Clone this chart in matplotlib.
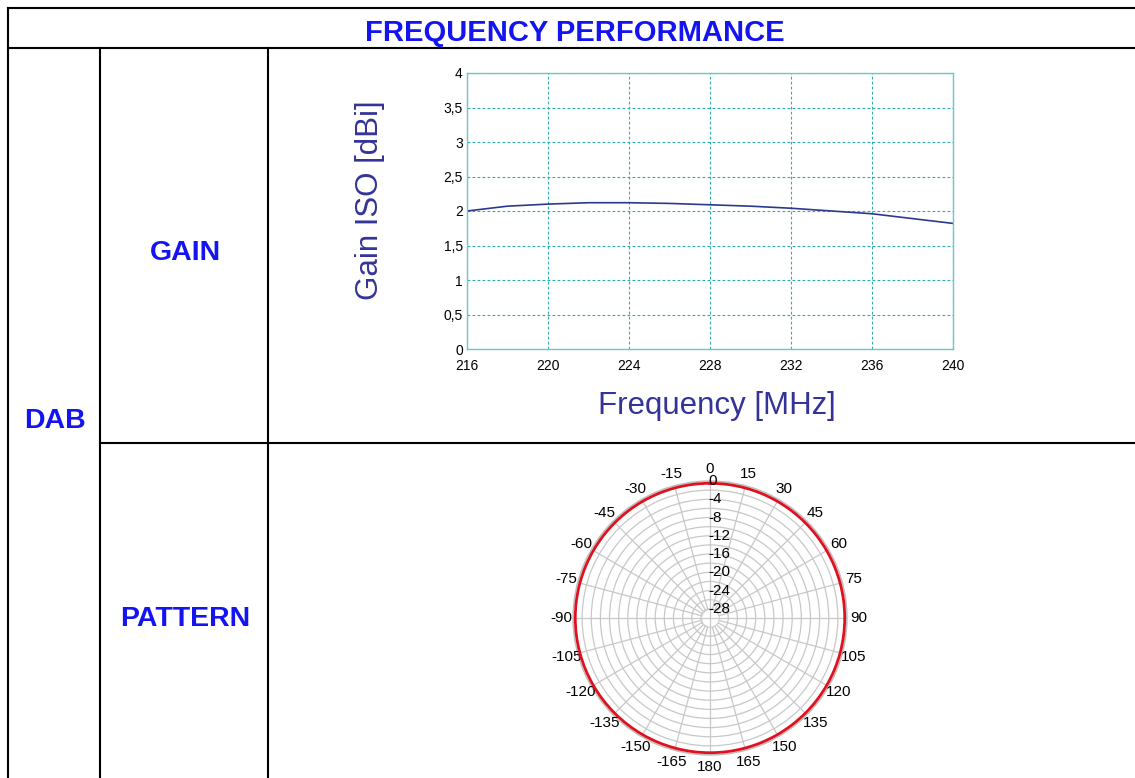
import numpy as np
import matplotlib
matplotlib.use("Agg")
import matplotlib.pyplot as plt
import matplotlib.transforms as mtransforms

plt.rcParams['font.family'] = ['Liberation Sans', 'DejaVu Sans']

# ---------------- data ----------------
title_text = "FREQUENCY PERFORMANCE"
row_group = "DAB"
row_labels = ["GAIN", "PATTERN"]

freq_mhz = [216, 218, 220, 222, 224, 226, 228, 230, 232, 234, 236, 238, 240]
gain_dbi = [2.00, 2.07, 2.10, 2.12, 2.12, 2.11, 2.09, 2.07, 2.04, 2.00, 1.96, 1.89, 1.82]
x_ticks = [216, 220, 224, 228, 232, 236, 240]
y_ticks = [0, 0.5, 1, 1.5, 2, 2.5, 3, 3.5, 4]
y_tick_labels = ["0", "0,5", "1", "1,5", "2", "2,5", "3", "3,5", "4"]
x_label = "Frequency [MHz]"
y_label = "Gain ISO [dBi]"

pattern_angle_deg = [0, 15, 30, 45, 60, 75, 90, 105, 120, 135, 150, 165, 180,
                     195, 210, 225, 240, 255, 270, 285, 300, 315, 330, 345, 360]
pattern_db = [-0.5, -0.5, -0.5, -0.5, -0.5, -0.5, -0.5, -0.5, -0.5, -0.5, -0.5, -0.5, -0.5,
              -0.5, -0.5, -0.5, -0.5, -0.5, -0.5, -0.5, -0.5, -0.5, -0.5, -0.5, -0.5]
theta_tick_deg = [0, 15, 30, 45, 60, 75, 90, 105, 120, 135, 150, 165, 180,
                  195, 210, 225, 240, 255, 270, 285, 300, 315, 330, 345]
theta_tick_labels = ["0", "15", "30", "45", "60", "75", "90", "105", "120", "135", "150", "165", "180",
                     "-165", "-150", "-135", "-120", "-105", "-90", "-75", "-60", "-45", "-30", "-15"]
r_rings = [-28, -26, -24, -22, -20, -18, -16, -14, -12, -10, -8, -6, -4, -2, 0]
r_label_vals = [0, -4, -8, -12, -16, -20, -24, -28]

# ---------------- figure ----------------
W, H = 1135, 778
fig = plt.figure(figsize=(W / 100, H / 100), dpi=100)

bg = fig.add_axes([0, 0, 1, 1])
bg.set_xlim(0, W)
bg.set_ylim(H, 0)
bg.axis('off')

lw_tab = 1.5
seg = [((8, 8), (W, 8)), ((8, 48), (W, 48)), ((8, 8), (8, H)),
       ((100, 48), (100, H)), ((268, 48), (268, H)), ((100, 443), (W, 443))]
for (x0, y0), (x1, y1) in seg:
    bg.plot([x0, x1], [y0, y1], color='black', lw=lw_tab, solid_capstyle='projecting')

blue = '#1414f0'
bg.text(575, 33, title_text, color=blue, fontsize=21, fontweight='bold', ha='center', va='center')
bg.text(55, 421, row_group, color=blue, fontsize=20.5, fontweight='bold', ha='center', va='center')
bg.text(185, 253, row_labels[0], color=blue, fontsize=20.5, fontweight='bold', ha='center', va='center')
bg.text(185, 619, row_labels[1], color=blue, fontsize=20.5, fontweight='bold', ha='center', va='center')

lab_col = '#333399'
bg.text(370, 200, y_label, color=lab_col, fontsize=22.5, rotation=90, ha='center', va='center')
bg.text(717, 406, x_label, color=lab_col, fontsize=22.5, ha='center', va='center')

# ---------------- gain chart ----------------
ax = fig.add_axes([467 / W, (H - 349) / H, 486 / W, 276 / H])
ax.plot(freq_mhz, gain_dbi, color='#2b3a8c', lw=1.2)
ax.set_xlim(216, 240)
ax.set_ylim(0, 4)
ax.set_xticks(x_ticks)
ax.set_xticklabels([str(v) for v in x_ticks])
ax.set_yticks(y_ticks)
ax.set_yticklabels(y_tick_labels)
teal = '#2aaeae'
ax.grid(True, color=teal, linestyle=(0, (2.5, 2)), lw=0.8)
for s in ax.spines.values():
    s.set_color('#6cc8c8')
    s.set_linewidth(1.0)
ax.tick_params(axis='both', length=0, labelsize=10, colors='black')
ax.tick_params(axis='x', pad=7)
ax.tick_params(axis='y', pad=3)

# ---------------- pattern (polar) ----------------
cx, cy, R = 710, 618, 137
pax = fig.add_axes([(cx - R) / W, (H - cy - R) / H, 2 * R / W, 2 * R / H], projection='polar')
pax.set_theta_zero_location('N')
pax.set_theta_direction(-1)
pax.set_rlim(-30, 0)
pax.set_rgrids(r_rings, labels=[''] * len(r_rings))
pax.set_thetagrids(theta_tick_deg, labels=[''] * len(theta_tick_deg))
pax.grid(True, color='#c8c8c8', lw=0.9, linestyle='-')
pax.spines['polar'].set_color('#bdbdbd')
pax.spines['polar'].set_linewidth(1.0)
pax.tick_params(length=0)

# keep the centre clean: only the main axes cross inside the innermost ring
disk_t = np.linspace(0, 2 * np.pi, 200)
pax.fill_between(disk_t, -30, -28.2, color='white', zorder=2, lw=0)
pax.plot([0, np.pi], [-28, -28], color='#c8c8c8', lw=0.9, zorder=2.1)
pax.plot([np.pi / 2, 3 * np.pi / 2], [-28, -28], color='#c8c8c8', lw=0.9, zorder=2.1)

line, = pax.plot(np.deg2rad(pattern_angle_deg), pattern_db, color='#e0101e', lw=2.0, zorder=5)
line.get_path()._interpolation_steps = 40

for ang, lab in zip(theta_tick_deg, theta_tick_labels):
    pax.text(np.deg2rad(ang), 2.6, lab, fontsize=11, ha='center', va='center', clip_on=False)

off = mtransforms.offset_copy(pax.transData, fig=fig, x=-2, y=0, units='dots')
for rv in r_label_vals:
    pax.text(0, rv, str(rv), fontsize=11, ha='left', va='center', transform=off, zorder=6)

fig.savefig('out.png', dpi=100)
